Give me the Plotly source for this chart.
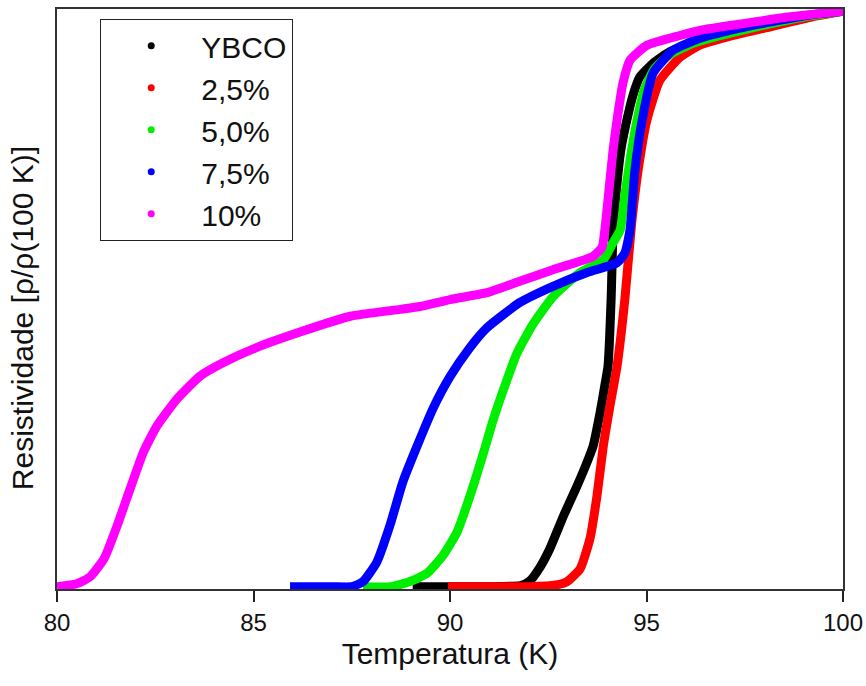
import plotly.graph_objects as go

# ---- data ----
series_names = ["YBCO", "2,5%", "5,0%", "7,5%", "10%"]
series_colors = ["#000000", "#ff0000", "#00ee00", "#0000ff", "#ff00ff"]

T_ybco = [89.05, 90.0, 91.0, 91.8, 92.03, 92.3, 92.54, 92.9, 93.2, 93.45, 93.64, 93.82, 93.94, 94.02,
          94.1, 94.15, 94.22, 94.35, 94.5, 94.66, 94.83, 95.17, 95.6, 96.5, 97.5, 98.5, 99.3, 100.0]
R_ybco = [0.0, 0.0, 0.0, 0.002, 0.01, 0.035, 0.066, 0.125, 0.17, 0.21, 0.244, 0.303, 0.35, 0.383,
          0.5, 0.62, 0.68, 0.76, 0.811, 0.855, 0.886, 0.91, 0.93, 0.953, 0.97, 0.984, 0.993, 1.0]

T_25 = [89.95, 91.0, 92.0, 92.7, 92.98, 93.31, 93.56, 93.74, 93.9, 94.07, 94.25, 94.45, 94.62,
        94.8, 95.01, 95.34, 95.85, 96.36, 97.2, 98.2, 99.2, 100.0]
R_25 = [0.0, 0.0, 0.0, 0.003, 0.009, 0.031, 0.083, 0.158, 0.244, 0.314, 0.383, 0.5, 0.63,
        0.73, 0.811, 0.88, 0.92, 0.941, 0.958, 0.974, 0.99, 1.0]

T_50 = [87.79, 88.5, 88.98, 89.41, 89.82, 90.18, 90.51, 90.84, 91.1, 91.4, 91.7, 92.1, 92.62, 93.31,
        93.9, 94.15, 94.33, 94.45, 94.6, 94.76, 94.95, 95.2, 95.6, 96.2, 97.0, 98.0, 99.0, 100.0]
R_50 = [0.0, 0.0, 0.009, 0.023, 0.054, 0.095, 0.158, 0.23, 0.29, 0.35, 0.405, 0.455, 0.504, 0.546,
        0.568, 0.598, 0.62, 0.68, 0.75, 0.811, 0.865, 0.9, 0.925, 0.945, 0.96, 0.976, 0.99, 1.0]

T_75 = [85.93, 87.0, 87.5, 87.79, 88.14, 88.47, 88.8, 89.16, 89.57, 90.0, 90.5, 90.94, 91.78, 92.62,
        93.49, 94.25, 94.45, 94.58, 94.7, 94.89, 95.17, 95.67, 96.36, 97.2, 98.2, 99.2, 100.0]
R_75 = [0.0, 0.0, 0.0, 0.009, 0.043, 0.106, 0.182, 0.244, 0.31, 0.365, 0.415, 0.45, 0.494, 0.522,
        0.546, 0.563, 0.58, 0.62, 0.72, 0.811, 0.893, 0.932, 0.953, 0.968, 0.982, 0.994, 1.0]

T_10 = [80.0, 80.5, 80.84, 81.2, 81.53, 81.86, 82.2, 82.54, 83.05, 83.64, 84.25, 85.09, 86.2,
        87.46, 88.73, 89.24, 90.0, 90.94, 91.7, 92.62, 93.64, 93.87, 93.94, 94.02, 94.15, 94.25,
        94.4, 94.58, 95.01, 95.85, 96.36, 97.4, 98.6, 100.0]
R_10 = [0.0, 0.005, 0.017, 0.049, 0.106, 0.17, 0.234, 0.279, 0.326, 0.366, 0.39, 0.416, 0.443,
        0.47, 0.482, 0.487, 0.499, 0.511, 0.529, 0.551, 0.574, 0.59, 0.62, 0.672, 0.759, 0.811,
        0.875, 0.915, 0.941, 0.958, 0.967, 0.978, 0.99, 1.0]

x_ticks = [80, 85, 90, 95, 100]
x_title = "Temperatura (K)"
y_title = "Resistividade [ρ/ρ(100 K)]"

all_T = [T_ybco, T_25, T_50, T_75, T_10]
all_R = [R_ybco, R_25, R_50, R_75, R_10]

FONT = "Liberation Sans, Arial, sans-serif"

fig = go.Figure()
for name, col, T, R in zip(series_names, series_colors, all_T, all_R):
    fig.add_trace(go.Scatter(x=T, y=R, mode="lines",
                             line=dict(color=col, width=9, shape="spline", smoothing=0.5),
                             showlegend=False, hoverinfo="skip"))
for name, col in zip(series_names, series_colors):
    fig.add_trace(go.Scatter(x=[None], y=[None], mode="markers", name=name,
                             marker=dict(color=col, size=7)))

fig.update_layout(
    width=866, height=686,
    margin=dict(l=57, r=23, t=9, b=97),
    paper_bgcolor="white", plot_bgcolor="white",
    font=dict(family=FONT, color="#111"),
    legend=dict(x=0.055, y=0.983, xanchor="left", yanchor="top",
                bgcolor="white", bordercolor="#222", borderwidth=1,
                font=dict(size=30, family=FONT, color="#111"),
                itemwidth=90, tracegroupgap=0),
    xaxis=dict(range=[80, 100], tickvals=x_ticks, ticktext=[str(v) for v in x_ticks],
               ticks="outside", ticklen=11, tickwidth=2, tickcolor="#222",
               ticklabelstandoff=0,
               showline=True, linecolor="#333", linewidth=2, mirror=True,
               showgrid=False, zeroline=False, automargin=False,
               tickfont=dict(size=24, family=FONT, color="#111"),
               title=dict(text=x_title, font=dict(size=30, family=FONT, color="#111"), standoff=8)),
    yaxis=dict(range=[-0.004, 1.004], showticklabels=False, ticks="",
               showline=True, linecolor="#333", linewidth=2, mirror=True,
               showgrid=False, zeroline=False, automargin=False),
    annotations=[dict(text=y_title, xref="paper", yref="paper", x=-0.0445, y=0.467,
                      xanchor="center", yanchor="middle", textangle=-90, showarrow=False,
                      font=dict(size=30, family=FONT, color="#111"))],
)
fig.write_html("out.html", config={"displayModeBar": False},
               post_script="document.body.style.margin='0';document.body.style.overflow='hidden';")
